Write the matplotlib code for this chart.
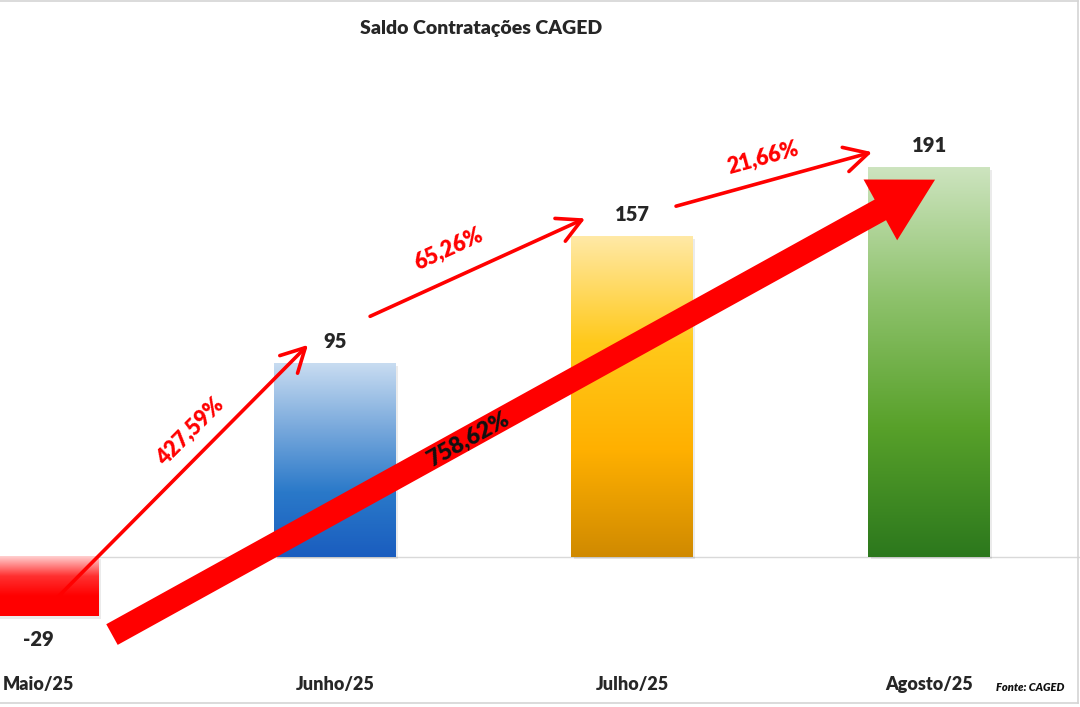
import numpy as np
import matplotlib
matplotlib.use("Agg")
import matplotlib.pyplot as plt
from matplotlib.colors import LinearSegmentedColormap
from matplotlib.patches import FancyArrowPatch, ArrowStyle
from matplotlib.lines import Line2D

plt.rcParams['font.family'] = ['Lato', 'DejaVu Sans']

# Data
months = ['Maio/25', 'Junho/25', 'Julho/25', 'Agosto/25']
saldo = [-29, 95, 157, 191]

# gradient stops per bar (from bar top to bar bottom)
grad_colors = [
    ['#ffd0d0', '#ff3030', '#ff0000', '#ff0000'],
    ['#c8dcf1', '#79a9dc', '#2a79c9', '#1a5dbf'],
    ['#ffe9a6', '#ffc91a', '#ffb000', '#d08a00'],
    ['#cde4bf', '#8ec26c', '#58a12a', '#2c781d'],
]

x = np.arange(len(months))
bar_w = 0.41
red = '#ff0000'
txt = '#262626'
wt = 'heavy'

fig = plt.figure(figsize=(10.8, 7.07), dpi=100)
ax = fig.add_axes([0, 0.0967, 1, 0.8223])
ax.set_xlim(-0.128, 3.508)
ax.set_ylim(-40, 245)
for s in ax.spines.values():
    s.set_visible(False)
ax.set_yticks([])
ax.set_xticks(x, months)
ax.tick_params(axis='x', length=0, pad=27)
for lab in ax.get_xticklabels():
    lab.set_fontsize(13)
    lab.set_fontweight(wt)
    lab.set_color(txt)

ax.axhline(0, color='#d9d9d9', lw=1, zorder=1)

# bars with vertical gradient fill
bars = ax.bar(x, saldo, width=bar_w, color='none', zorder=2)
for b, cols in zip(bars, grad_colors):
    x0, w = b.get_x(), b.get_width()
    y0, h = b.get_y(), b.get_height()
    lo, hi = min(y0, y0 + h), max(y0, y0 + h)
    cmap = LinearSegmentedColormap.from_list('g', cols)
    grad = np.linspace(0, 1, 256).reshape(-1, 1)
    ax.imshow(grad, cmap=cmap, extent=(x0, x0 + w, lo, hi), origin='upper',
              aspect='auto', zorder=2)
    # soft shadow
    ax.add_patch(plt.Rectangle((x0 + 0.008, lo - 1.2), w, hi - lo,
                               color='#000000', alpha=0.08, lw=0, zorder=1.5))

# value labels
for xi, v in zip(x, saldo):
    if v >= 0:
        ax.annotate(f'{v}', (xi, v), xytext=(0, 9), textcoords='offset points',
                    ha='center', va='bottom', fontsize=14.5, fontweight=wt,
                    color=txt, zorder=6)
    else:
        ax.annotate(f'{v}', (xi, v), xytext=(0, -10), textcoords='offset points',
                    ha='center', va='top', fontsize=14.5, fontweight=wt,
                    color=txt, zorder=6)


def pct(a, b):
    return f'{(b - a) / abs(a) * 100:.2f}%'.replace('.', ',')


def screen_angle(p0, p1):
    a = ax.transData.transform(p0)
    b = ax.transData.transform(p1)
    return np.degrees(np.arctan2(b[1] - a[1], b[0] - a[0]))


# month-to-month arrows (offsets relative to the bars they join)
start_off = [(0.064, 9), (0.118, 23), (0.148, 15)]
end_off = [(-0.091, 9), (-0.158, 9), (-0.192, 7.5)]
label_pos = [(0.512, 61.3), (1.384, 151), (2.441, 195.6)]

for i in range(len(saldo) - 1):
    p0 = (x[i] + start_off[i][0], saldo[i] + start_off[i][1])
    p1 = (x[i + 1] + end_off[i][0], saldo[i + 1] + end_off[i][1])
    ax.annotate('', xy=p1, xytext=p0,
                arrowprops=dict(arrowstyle='->,head_length=0.85,head_width=0.45',
                                color=red, lw=2.6, mutation_scale=20,
                                shrinkA=0, shrinkB=0),
                zorder=5, annotation_clip=False)
    ang = screen_angle(p0, p1)
    ax.text(*label_pos[i], pct(saldo[i], saldo[i + 1]), rotation=ang,
            rotation_mode='anchor', ha='center', va='center', fontsize=15.5,
            fontweight=wt, color=red, zorder=6)

# big overall arrow
big0 = (x[0] + 0.249, saldo[0] - 9)
big1 = (x[-1] + 0.02, saldo[-1] - 6)
big = FancyArrowPatch(big0, big1,
                      arrowstyle=ArrowStyle.Simple(head_length=45, head_width=50,
                                                   tail_width=17),
                      mutation_scale=1, color=red, lw=0, shrinkA=0, shrinkB=0,
                      zorder=4, clip_on=False)
ax.add_patch(big)
ax.text(1.448, 57.4, pct(saldo[0], saldo[-1]), rotation=screen_angle(big0, big1),
        rotation_mode='anchor', ha='center', va='center', fontsize=16.5,
        fontweight=wt, color='#111111', zorder=6)

fig.text(0.4455, 0.960, 'Saldo Contratações CAGED', ha='center', va='center',
         fontsize=14, fontweight=wt, color=txt)
fig.text(0.954, 0.028, 'Fonte: CAGED', ha='center', va='center', fontsize=8,
         fontweight=wt, style='italic', color='#111111')

# chart frame
for xs, ys in [([0, 0.998], [0.998, 0.998]), ([0, 0.998], [0.005, 0.005]),
               ([0.998, 0.998], [0.005, 0.998])]:
    fig.add_artist(Line2D(xs, ys, color='#d4d4d4', lw=1.2))

fig.savefig('out.png', dpi=100, facecolor='white')
